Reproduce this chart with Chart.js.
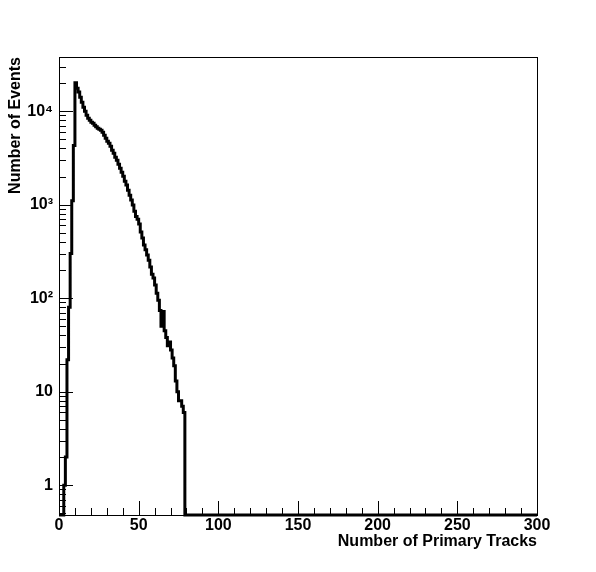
<!DOCTYPE html>
<html>
<head>
<meta charset="utf-8">
<script src="https://cdn.jsdelivr.net/npm/chart.js@4.4.0/dist/chart.umd.min.js"></script>
<style>
  html, body { margin: 0; padding: 0; background: #fff; }
  canvas { display: block; }
</style>
</head>
<body>
<canvas id="histChart" width="596" height="572"></canvas>
<script>
// Number of primary tracks per event, 1-track bins from 0 to 300
const binLow = 0;
const binHigh = 300;

// bins 0..79, every bin from 80 upward is empty
const counts = [
  0, 0, 0, 0, 1, 2, 22, 80, 300, 1100,
  4300, 20100, 17600, 16000, 14100, 12500, 11000, 10000, 9060, 8410,
  8010, 7630, 7440, 7090, 6820, 6580, 6420, 6260, 5960, 5530,
  5140, 4770, 4550, 4230, 3830, 3560, 3220, 2990, 2710, 2460,
  2230, 2020, 1780, 1620, 1430, 1260, 1120, 990, 850, 750,
  700, 620, 510, 440, 370, 330, 290, 255, 215, 180,
  164, 138, 113, 95, 74, 50, 72, 45, 38, 31,
  34, 28, 23, 19, 13, 10, 8, 8, 7, 6
];

const xTickValues = [0, 50, 100, 150, 200, 250, 300];
const yTickValues = [1, 10, 100, 1000, 10000];
const yTickLabels = ["1", "10", "10\u00B2", "10\u00B3", "10\u2074"];
const yMin = 0.48;
const yMax = 38000;

const fontFamily = "'Liberation Sans', Arial, sans-serif";

// histogram outline: one point per bin low edge, drawn stepped
// empty bins sit on the bottom of the frame, as ROOT does on a log axis
const points = [];
for (let k = binLow; k < binHigh; k++) {
  const c = counts[k] || 0;
  points.push({ x: k, y: c > 0 ? c : yMin });
}
points.push({ x: binHigh, y: points[points.length - 1].y });

// frame and inward tick marks, ROOT style
const rootFrame = {
  id: "rootFrame",
  afterDraw(chart) {
    const { ctx, chartArea: a, scales } = chart;
    ctx.save();
    ctx.strokeStyle = "#000";
    ctx.lineWidth = 1;
    ctx.strokeRect(a.left + 0.5, a.top + 0.5, a.right - a.left, a.bottom - a.top);
    ctx.beginPath();
    for (let v = binLow; v <= binHigh; v += 10) {
      const px = Math.round(scales.x.getPixelForValue(v)) + 0.5;
      const len = v % 50 === 0 ? 14 : 7;
      ctx.moveTo(px, a.bottom);
      ctx.lineTo(px, a.bottom - len);
    }
    for (let d = -1; d <= 4; d++) {
      for (let m = 1; m <= 9; m++) {
        const v = m * Math.pow(10, d);
        if (v < yMin || v > yMax) continue;
        const py = Math.round(scales.y.getPixelForValue(v)) + 0.5;
        const len = m === 1 ? 14 : 7;
        ctx.moveTo(a.left, py);
        ctx.lineTo(a.left + len, py);
      }
    }
    ctx.stroke();
    ctx.restore();
  }
};

const ctx = document.getElementById("histChart").getContext("2d");
const histChart = new Chart(ctx, {
  type: "line",
  data: {
    datasets: [
      {
        label: "Number of Events",
        data: points,
        stepped: "after",
        borderColor: "#000",
        borderWidth: 3,
        pointRadius: 0,
        fill: false,
        clip: false,
      },
    ],
  },
  options: {
    responsive: false,
    animation: false,
    devicePixelRatio: 1,
    layout: { padding: { top: 57, right: 59, left: 0, bottom: 0 } },
    plugins: {
      legend: { display: false },
      tooltip: { enabled: false },
    },
    scales: {
      x: {
        type: "linear",
        min: binLow,
        max: binHigh,
        afterBuildTicks: (scale) => {
          scale.ticks = xTickValues.map((v) => ({ value: v }));
        },
        afterFit: (scale) => {
          scale.height = 57;
        },
        grid: { display: false, drawTicks: false },
        border: { display: false },
        ticks: {
          color: "#000",
          padding: 1,
          maxRotation: 0,
          autoSkip: false,
          font: { family: fontFamily, size: 16, weight: "bold" },
        },
        title: {
          display: true,
          text: "Number of Primary Tracks",
          align: "end",
          color: "#000",
          padding: { top: 0, bottom: 21 },
          font: { family: fontFamily, size: 16, weight: "bold" },
        },
      },
      y: {
        type: "logarithmic",
        min: yMin,
        max: yMax,
        afterBuildTicks: (scale) => {
          scale.ticks = yTickValues.map((v) => ({ value: v }));
        },
        afterFit: (scale) => {
          scale.width = 59;
        },
        grid: { display: false, drawTicks: false },
        border: { display: false },
        ticks: {
          color: "#000",
          padding: 6,
          autoSkip: false,
          callback: (value) => yTickLabels[yTickValues.indexOf(value)],
          font: { family: fontFamily, size: 16, weight: "bold" },
        },
        title: {
          display: true,
          text: "Number of Events",
          align: "end",
          color: "#000",
          padding: { top: 6, bottom: 0 },
          font: { family: fontFamily, size: 16, weight: "bold" },
        },
      },
    },
  },
  plugins: [rootFrame],
});
</script>
</body>
</html>
